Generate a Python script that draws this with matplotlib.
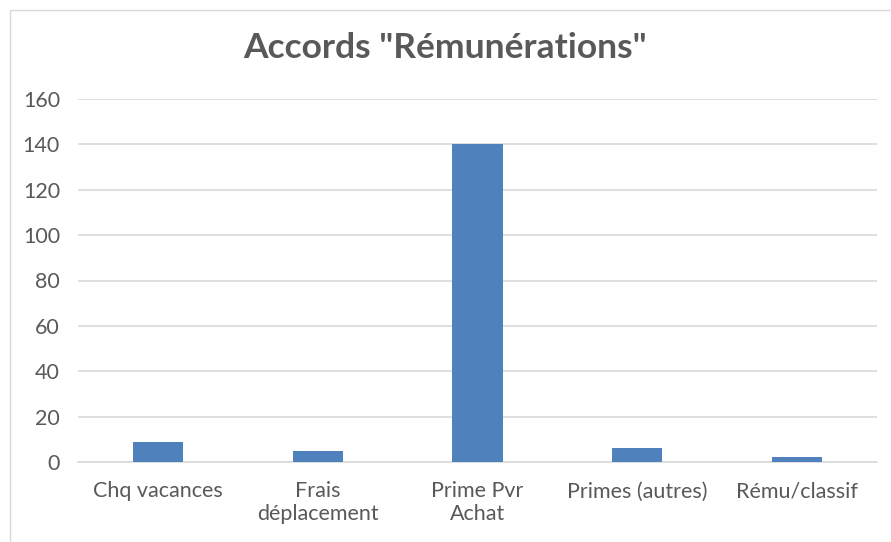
import matplotlib
matplotlib.use("Agg")
import matplotlib.pyplot as plt
from matplotlib.patches import Rectangle

categories = ["Chq vacances", "Frais\ndéplacement", "Prime Pvr\nAchat", "Primes (autres)", "Rému/classif"]
values = [9, 5, 140, 6, 2]
yticks = [0, 20, 40, 60, 80, 100, 120, 140, 160]

plt.rcParams['font.family'] = ['Lato', 'DejaVu Sans']
txt = '#595959'

fig = plt.figure(figsize=(8.91, 5.42), dpi=100)
fig.patches.append(Rectangle((10/891, -0.1), 1.2, 1 - 10/542 + 0.1, transform=fig.transFigure,
                             fill=False, edgecolor='#D9D9D9', linewidth=1))
ax = fig.add_axes([78/891, 1 - 462/542, (877 - 78)/891, (462 - 99)/542])
x = range(len(categories))
ax.bar(x, values, width=0.315, color='#4F81BD', zorder=3)
ax.set_xlim(-0.5, len(categories) - 0.5)
ax.set_ylim(0, 160)
ax.set_yticks(yticks)
ax.set_yticklabels([str(v) for v in yticks], fontsize=15.5, color=txt)
ax.set_xticks(list(x))
ax.set_xticklabels(categories, fontsize=15.5, color=txt, linespacing=1.15)
ax.tick_params(axis='both', length=0)
ax.tick_params(axis='y', pad=13)
ax.tick_params(axis='x', pad=14)
ax.grid(axis='y', color='#D9D9D9', linewidth=1.2, zorder=0)
for s in ['top', 'right', 'left']:
    ax.spines[s].set_visible(False)
ax.spines['bottom'].set_color('#D9D9D9')
ax.spines['bottom'].set_linewidth(1.2)
fig.text(0.5, 1 - 48/542, 'Accords "Rémunérations"', ha='center', va='center',
         fontsize=25.5, fontweight='bold', color=txt)
fig.savefig('out.png', dpi=100)
